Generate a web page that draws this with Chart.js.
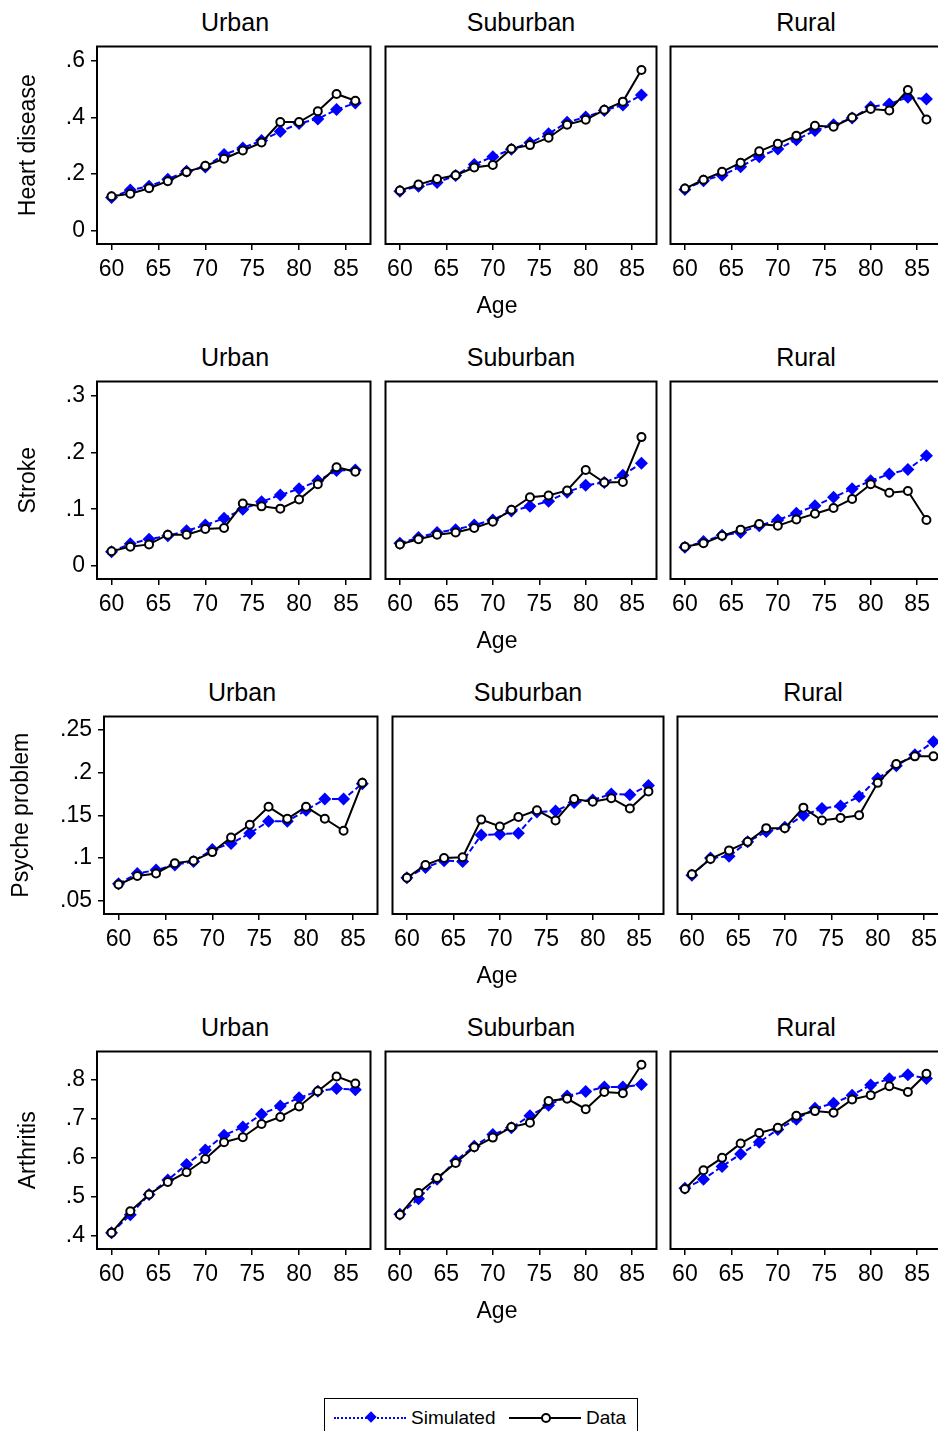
<!DOCTYPE html>
<html>
<head>
<meta charset="utf-8">
<script src="https://cdn.jsdelivr.net/npm/chart.js@4.4.1/dist/chart.umd.min.js"></script>
<style>
  html, body { margin: 0; padding: 0; background: #fff; }
  body { width: 938px; height: 1431px; overflow: hidden; position: relative; font-family: "Liberation Sans", Arial, sans-serif; color: #000; }
  .panel { position: absolute; }
  .ptitle { position: absolute; width: 276px; text-align: center; font-size: 25px; line-height: 30px; }
  .xtitle { position: absolute; width: 100px; text-align: center; font-size: 23px; line-height: 28px; }
  #legend { position: absolute; left: 324px; top: 1398px; width: 312px; height: 40px; border: 1px solid #000; font-size: 19px; }
  #legend .lbl { position: absolute; top: 7px; line-height: 24px; }
  #legend .sim-line { position: absolute; left: 9px; top: 18px; width: 72px; border-top: 2px dotted #0000ff; }
  #legend .sim-mark { position: absolute; left: 42px; top: 14px; width: 8px; height: 8px; background: #0000ff; transform: rotate(45deg); }
  #legend .dat-line { position: absolute; left: 184px; top: 18px; width: 72px; border-top: 2px solid #000; }
  #legend .dat-mark { position: absolute; left: 216px; top: 14px; width: 6px; height: 6px; background: #fff; border: 2px solid #000; border-radius: 50%; }
</style>
</head>
<body>
<div id="charts"></div>
<div id="legend">
  <div class="sim-line"></div><div class="sim-mark"></div>
  <div class="lbl" style="left:86px">Simulated</div>
  <div class="dat-line"></div><div class="dat-mark"></div>
  <div class="lbl" style="left:261px">Data</div>
</div>
<script>
// ages on the x axis
const ages = [60, 62, 64, 66, 68, 70, 72, 74, 76, 78, 80, 82, 84, 86];
const xTicks = [60, 65, 70, 75, 80, 85];
const areas = ["Urban", "Suburban", "Rural"];

// Heart disease
const heartUrbanSim = [0.118, 0.144, 0.157, 0.182, 0.210, 0.225, 0.269, 0.292, 0.318, 0.350, 0.378, 0.394, 0.427, 0.450];
const heartUrbanData = [0.122, 0.131, 0.150, 0.175, 0.207, 0.229, 0.254, 0.283, 0.311, 0.383, 0.383, 0.421, 0.482, 0.458];
const heartSuburbSim = [0.140, 0.157, 0.170, 0.195, 0.234, 0.261, 0.287, 0.310, 0.342, 0.382, 0.401, 0.424, 0.443, 0.478];
const heartSuburbData = [0.142, 0.163, 0.183, 0.196, 0.223, 0.232, 0.289, 0.302, 0.328, 0.374, 0.391, 0.426, 0.455, 0.566];
const heartRuralSim = [0.146, 0.177, 0.196, 0.226, 0.261, 0.288, 0.321, 0.353, 0.374, 0.397, 0.436, 0.447, 0.470, 0.464];
const heartRuralData = [0.149, 0.180, 0.208, 0.240, 0.280, 0.307, 0.335, 0.370, 0.367, 0.399, 0.429, 0.424, 0.496, 0.392];
const heartTicks = [0, 0.2, 0.4, 0.6];

// Stroke
const strokeUrbanSim = [0.025, 0.039, 0.047, 0.053, 0.062, 0.072, 0.084, 0.100, 0.113, 0.125, 0.136, 0.150, 0.168, 0.169];
const strokeUrbanData = [0.026, 0.034, 0.038, 0.055, 0.055, 0.065, 0.067, 0.110, 0.105, 0.101, 0.117, 0.144, 0.174, 0.166];
const strokeSuburbSim = [0.040, 0.050, 0.059, 0.064, 0.072, 0.081, 0.097, 0.105, 0.114, 0.130, 0.142, 0.147, 0.160, 0.181];
const strokeSuburbData = [0.038, 0.047, 0.055, 0.059, 0.067, 0.078, 0.099, 0.121, 0.124, 0.133, 0.169, 0.147, 0.148, 0.227];
const strokeRuralSim = [0.033, 0.043, 0.054, 0.059, 0.071, 0.081, 0.093, 0.106, 0.121, 0.136, 0.150, 0.162, 0.170, 0.194];
const strokeRuralData = [0.034, 0.040, 0.053, 0.064, 0.074, 0.071, 0.082, 0.092, 0.102, 0.118, 0.144, 0.129, 0.132, 0.081];
const strokeTicks = [0, 0.1, 0.2, 0.3];

// Psyche problem
const psycheUrbanSim = [0.070, 0.082, 0.086, 0.092, 0.096, 0.110, 0.117, 0.129, 0.143, 0.143, 0.156, 0.169, 0.169, 0.187];
const psycheUrbanData = [0.069, 0.079, 0.082, 0.094, 0.097, 0.107, 0.124, 0.139, 0.160, 0.146, 0.160, 0.146, 0.132, 0.188];
const psycheSuburbSim = [0.077, 0.089, 0.097, 0.096, 0.127, 0.128, 0.129, 0.154, 0.155, 0.165, 0.168, 0.175, 0.174, 0.185];
const psycheSuburbData = [0.077, 0.092, 0.100, 0.101, 0.145, 0.137, 0.148, 0.156, 0.144, 0.169, 0.166, 0.170, 0.158, 0.178];
const psycheRuralSim = [0.080, 0.100, 0.102, 0.119, 0.131, 0.136, 0.150, 0.158, 0.161, 0.172, 0.193, 0.208, 0.221, 0.236];
const psycheRuralData = [0.081, 0.099, 0.109, 0.119, 0.135, 0.135, 0.159, 0.144, 0.147, 0.150, 0.188, 0.210, 0.219, 0.219];
const psycheTicks = [0.05, 0.1, 0.15, 0.2, 0.25];

// Arthritis
const arthUrbanSim = [0.408, 0.454, 0.506, 0.543, 0.583, 0.620, 0.658, 0.679, 0.712, 0.733, 0.754, 0.771, 0.778, 0.775];
const arthUrbanData = [0.408, 0.463, 0.506, 0.538, 0.563, 0.597, 0.640, 0.653, 0.687, 0.705, 0.732, 0.771, 0.809, 0.791];
const arthSuburbSim = [0.455, 0.495, 0.545, 0.592, 0.630, 0.660, 0.677, 0.708, 0.735, 0.759, 0.770, 0.782, 0.782, 0.788];
const arthSuburbData = [0.454, 0.510, 0.548, 0.587, 0.627, 0.652, 0.679, 0.690, 0.746, 0.752, 0.725, 0.769, 0.766, 0.839];
const arthRuralSim = [0.522, 0.545, 0.578, 0.610, 0.640, 0.673, 0.699, 0.727, 0.740, 0.761, 0.787, 0.803, 0.813, 0.804];
const arthRuralData = [0.520, 0.568, 0.600, 0.637, 0.664, 0.677, 0.708, 0.720, 0.716, 0.750, 0.761, 0.784, 0.769, 0.816];
const arthTicks = [0.4, 0.5, 0.6, 0.7, 0.8];

// one row per outcome, three panels per row
const rows = [
  { label: "Heart disease", ticks: heartTicks, min: -0.046, max: 0.649,
    sim: [heartUrbanSim, heartSuburbSim, heartRuralSim], data: [heartUrbanData, heartSuburbData, heartRuralData],
    top: 44, lefts: [97, 383, 668], titlePad: 15 },
  { label: "Stroke", ticks: strokeTicks, min: -0.023, max: 0.325,
    sim: [strokeUrbanSim, strokeSuburbSim, strokeRuralSim], data: [strokeUrbanData, strokeSuburbData, strokeRuralData],
    top: 379, lefts: [97, 383, 668], titlePad: 15 },
  { label: "Psyche problem", ticks: psycheTicks, min: 0.0346, max: 0.2656,
    sim: [psycheUrbanSim, psycheSuburbSim, psycheRuralSim], data: [psycheUrbanData, psycheSuburbData, psycheRuralData],
    top: 714, lefts: [104, 390, 675], titlePad: 8 },
  { label: "Arthritis", ticks: arthTicks, min: 0.366, max: 0.873,
    sim: [arthUrbanSim, arthSuburbSim, arthRuralSim], data: [arthUrbanData, arthSuburbData, arthRuralData],
    top: 1049, lefts: [97, 383, 668], titlePad: 15 }
];

const BOX_W = 276, BOX_H = 200, PAD = 4, X_AXIS_H = 50;
const FONT = "'Liberation Sans', Arial, sans-serif";

// dessine le cadre autour de la zone du graphique
const framePlugin = {
  id: "frame",
  beforeDatasetsDraw(chart) {
    const a = chart.chartArea, ctx = chart.ctx;
    ctx.save();
    ctx.strokeStyle = "#000";
    ctx.lineWidth = 2;
    ctx.strokeRect(a.left, a.top, a.right - a.left, a.bottom - a.top);
    ctx.restore();
  }
};

function fmtY(v) {
  return v === 0 ? "0" : String(v).replace(/^0/, "");
}

const container = document.getElementById("charts");

rows.forEach(row => {
  row.lefts.forEach((boxLeft, col) => {
    const first = col === 0;
    const canvasLeft = first ? 0 : boxLeft - PAD;
    const width = first ? boxLeft + BOX_W + PAD : BOX_W + 2 * PAD;
    const height = PAD + BOX_H + X_AXIS_H;

    const wrap = document.createElement("div");
    wrap.className = "panel";
    wrap.style.left = canvasLeft + "px";
    wrap.style.top = (row.top - PAD) + "px";
    const canvas = document.createElement("canvas");
    canvas.width = width;
    canvas.height = height;
    wrap.appendChild(canvas);
    container.appendChild(wrap);

    // titre du panneau
    const t = document.createElement("div");
    t.className = "ptitle";
    t.textContent = areas[col];
    t.style.left = boxLeft + "px";
    t.style.top = (row.top - 37) + "px";
    container.appendChild(t);

    new Chart(canvas, {
      type: "line",
      data: {
        datasets: [
          {
            label: "Simulated",
            data: ages.map((a, i) => ({ x: a, y: row.sim[col][i] })),
            borderColor: "#0000ff",
            borderWidth: 2,
            borderDash: [6, 3],
            pointStyle: "rectRot",
            pointRadius: 6.5,
            pointBackgroundColor: "#0000ff",
            pointBorderColor: "#0000ff",
            pointBorderWidth: 0,
            order: 2
          },
          {
            label: "Data",
            data: ages.map((a, i) => ({ x: a, y: row.data[col][i] })),
            borderColor: "#000",
            borderWidth: 2,
            pointStyle: "circle",
            pointRadius: 4,
            pointBackgroundColor: "#fff",
            pointBorderColor: "#000",
            pointBorderWidth: 2,
            order: 1
          }
        ]
      },
      options: {
        responsive: false,
        animation: false,
        layout: { padding: { left: first ? 0 : PAD, top: PAD, right: PAD, bottom: 0 } },
        plugins: { legend: { display: false }, tooltip: { enabled: false } },
        scales: {
          x: {
            type: "linear",
            min: 58.45,
            max: 87.62,
            afterBuildTicks: s => { s.ticks = xTicks.map(v => ({ value: v })); },
            afterFit: s => { s.height = X_AXIS_H; s.paddingLeft = 0; s.paddingRight = 0; },
            grid: { drawOnChartArea: false, drawTicks: true, tickLength: 6, color: "#000", lineWidth: 1.5 },
            border: { display: false },
            ticks: { color: "#000", font: { family: FONT, size: 23 }, padding: 6, maxRotation: 0 }
          },
          y: {
            display: first,
            min: row.min,
            max: row.max,
            afterBuildTicks: s => { s.ticks = row.ticks.map(v => ({ value: v })); },
            afterFit: s => { s.width = first ? boxLeft : 0; s.paddingTop = 0; s.paddingBottom = 0; },
            grid: { drawOnChartArea: false, drawTicks: true, tickLength: 6, color: "#000", lineWidth: 1.5 },
            border: { display: false },
            ticks: { color: "#000", font: { family: FONT, size: 23 }, padding: 6, callback: v => fmtY(v) },
            title: { display: true, text: row.label, color: "#000", font: { family: FONT, size: 23 }, padding: { top: row.titlePad, bottom: 0 } }
          }
        }
      },
      plugins: [framePlugin]
    });
  });

  // "Age" sous chaque ligne
  const xt = document.createElement("div");
  xt.className = "xtitle";
  xt.textContent = "Age";
  xt.style.left = (497 - 50) + "px";
  xt.style.top = (row.top + BOX_H + 47) + "px";
  container.appendChild(xt);
});
</script>
</body>
</html>
